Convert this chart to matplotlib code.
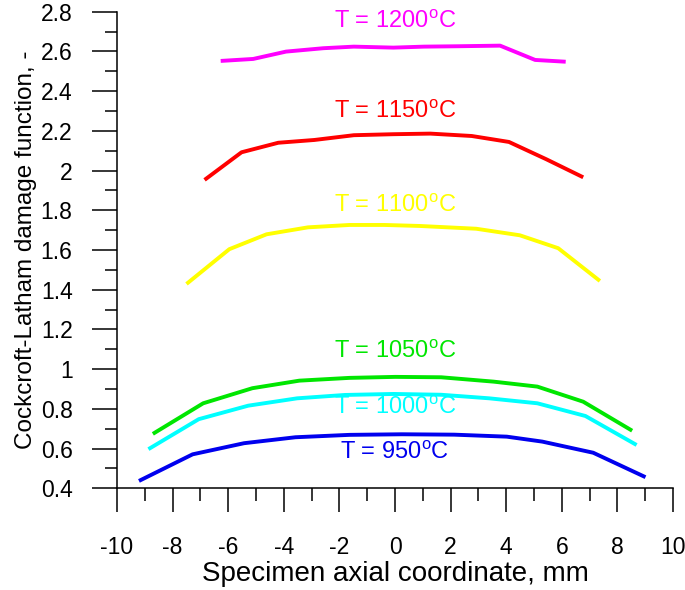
import numpy as np
import matplotlib
matplotlib.use("Agg")
import matplotlib.pyplot as plt
from matplotlib.ticker import MultipleLocator, FuncFormatter

plt.rcParams["font.family"] = ["Liberation Sans", "DejaVu Sans"]
plt.rcParams["mathtext.fontset"] = "custom"
plt.rcParams["mathtext.rm"] = "Liberation Sans"
plt.rcParams["axes.unicode_minus"] = False

# damage function along specimen axis, one curve per temperature
x_950 = [-9.21, -7.28, -5.43, -3.58, -1.64, 0.25, 2.13, 4.02, 5.30, 7.13, 9.01]
y_950 = [0.437, 0.571, 0.627, 0.657, 0.669, 0.672, 0.670, 0.660, 0.635, 0.579, 0.456]

x_1000 = [-8.87, -7.06, -5.28, -3.52, -1.80, -0.06, 1.66, 3.39, 5.12, 6.85, 8.69]
y_1000 = [0.597, 0.748, 0.816, 0.853, 0.870, 0.875, 0.871, 0.853, 0.828, 0.764, 0.618]

x_1050 = [-8.71, -6.90, -5.13, -3.44, -1.64, 0.01, 1.66, 3.55, 5.12, 6.77, 8.53]
y_1050 = [0.674, 0.828, 0.904, 0.942, 0.956, 0.961, 0.959, 0.937, 0.912, 0.836, 0.690]

x_1100 = [-7.50, -5.96, -4.62, -3.13, -1.64, -0.38, 0.88, 2.92, 4.49, 5.87, 7.37]
y_1100 = [1.429, 1.604, 1.679, 1.714, 1.726, 1.726, 1.721, 1.707, 1.674, 1.609, 1.444]

x_1150 = [-6.85, -5.52, -4.20, -2.90, -1.48, -0.06, 1.27, 2.76, 4.10, 5.44, 6.77]
y_1150 = [1.953, 2.092, 2.140, 2.154, 2.178, 2.183, 2.186, 2.174, 2.144, 2.057, 1.966]

x_1200 = [-6.27, -5.10, -3.92, -2.58, -1.48, -0.06, 1.04, 2.29, 3.78, 5.04, 6.14]
y_1200 = [2.552, 2.562, 2.599, 2.616, 2.624, 2.619, 2.624, 2.626, 2.629, 2.557, 2.548]

temps = ["950", "1000", "1050", "1100", "1150", "1200"]
colors = ["#0000ee", "#00ffff", "#00e600", "#ffff00", "#ff0000", "#ff00ff"]
label_y = [0.578, 0.805, 1.087, 1.822, 2.295, 2.748]

series = [(x_950, y_950), (x_1000, y_1000), (x_1050, y_1050),
          (x_1100, y_1100), (x_1150, y_1150), (x_1200, y_1200)]

fig = plt.figure(figsize=(6.85, 5.9), dpi=100)
ax = fig.add_axes([0.1708, 0.1724, 0.8117, 0.8078])

for (xs, ys), t, c, ly in zip(series, temps, colors, label_y):
    ax.plot(xs, ys, color=c, lw=2.8, solid_capstyle="butt")
    ax.text(0.0, ly, "T = " + t + r"$^\mathrm{o}$C", color=c, fontsize=17,
            ha="center", va="center")

ax.set_xlim(-10, 10)
ax.set_ylim(0.4, 2.8)
ax.spines["top"].set_visible(False)
ax.spines["right"].set_visible(False)
for s in ["left", "bottom"]:
    ax.spines[s].set_linewidth(1.1)

ax.xaxis.set_major_locator(MultipleLocator(2))
ax.xaxis.set_minor_locator(MultipleLocator(1))
ax.yaxis.set_major_locator(MultipleLocator(0.2))
ax.yaxis.set_minor_locator(MultipleLocator(0.1))
ax.yaxis.set_major_formatter(FuncFormatter(lambda v, p: "%g" % round(v, 2)))
ax.xaxis.set_major_formatter(FuncFormatter(lambda v, p: "%g" % round(v, 2)))

ax.tick_params(axis="y", which="major", direction="out", length=18, width=1.1,
               pad=14, labelsize=16.5)
ax.tick_params(axis="y", which="minor", direction="out", length=9, width=1.1)
ax.tick_params(axis="x", which="major", direction="out", length=17, width=1.1,
               pad=17, labelsize=16.5)
ax.tick_params(axis="x", which="minor", direction="out", length=9, width=1.1)

ax.set_xlabel("Specimen axial coordinate, mm", fontsize=20, labelpad=2)
ax.set_ylabel("Cockcroft-Latham damage function, -", fontsize=17.5, labelpad=3)

fig.savefig("out.png", dpi=100)
